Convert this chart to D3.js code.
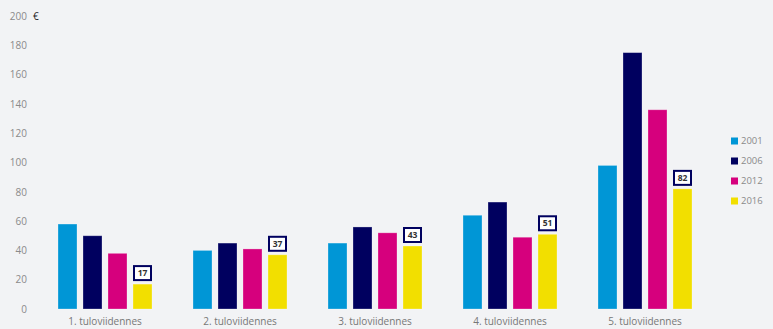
<!DOCTYPE html>
<html>
<head>
<meta charset="utf-8">
<script src="https://cdn.jsdelivr.net/npm/d3@7"></script>
<style>
  body { margin: 0; background: #f2f3f5; }
  svg { display: block; font-family: "Open Sans", sans-serif; }
</style>
</head>
<body>
<div id="graf"></div>
<script>
// datos
const categorias = ["1. tuloviidennes", "2. tuloviidennes", "3. tuloviidennes", "4. tuloviidennes", "5. tuloviidennes"];
const series = ["2001", "2006", "2012", "2016"];
const v2001 = [58, 40, 45, 64, 98];
const v2006 = [50, 45, 56, 73, 175];
const v2012 = [38, 41, 52, 49, 136];
const v2016 = [17, 37, 43, 51, 82];
const yTicks = [0, 20, 40, 60, 80, 100, 120, 140, 160, 180, 200];
const colores = ["#0096d6", "#00005f", "#d6007d", "#f2df00"];

const valores = [v2001, v2006, v2012, v2016];
const datos = categorias.map((c, i) => ({
  cat: c,
  vals: series.map((s, j) => ({ serie: s, valor: valores[j][i] }))
}));

const W = 773, H = 329;
const svg = d3.select("#graf").append("svg").attr("width", W).attr("height", H);
svg.append("rect").attr("width", W).attr("height", H).attr("fill", "#f2f3f5");

const y = d3.scaleLinear().domain([0, 200]).range([309, 16]);
const x0 = d3.scaleBand().domain(categorias).range([37.5, 712.5]).padding(0);
const x1 = d3.scaleBand().domain(series).range([0, x0.bandwidth()]).paddingInner(0.24).paddingOuter(0.82);
const color = d3.scaleOrdinal().domain(series).range(colores);

// eje y
const ejeY = svg.append("g").attr("transform", "translate(27,0)")
  .call(d3.axisLeft(y).tickValues(yTicks).tickSize(0).tickPadding(0));
ejeY.select(".domain").remove();
ejeY.selectAll("text").attr("fill", "#8a8a8a").style("font-size", "10px").style("font-family", "Open Sans");

svg.append("text").attr("x", 33).attr("y", 19.5).attr("fill", "#222")
  .style("font-size", "10px").text("€");

// eje x
const ejeX = svg.append("g").attr("transform", "translate(0,318)")
  .call(d3.axisBottom(x0).tickSize(0).tickPadding(0));
ejeX.select(".domain").remove();
ejeX.selectAll("text").attr("fill", "#777").style("font-size", "10px").style("font-family", "Open Sans");

// barras
const grupos = svg.selectAll("g.grupo").data(datos).enter().append("g")
  .attr("class", "grupo")
  .attr("transform", (d) => `translate(${x0(d.cat)},0)`);

grupos.selectAll("rect").data((d) => d.vals).enter().append("rect")
  .attr("x", (d) => x1(d.serie))
  .attr("y", (d) => y(d.valor))
  .attr("width", x1.bandwidth())
  .attr("height", (d) => y(0) - y(d.valor))
  .attr("fill", (d) => color(d.serie))
  .attr("stroke", "rgba(255,255,255,0.35)")
  .attr("stroke-width", 0.8);

// etiquetas 2016
const etq = grupos.append("g")
  .attr("transform", (d) => `translate(${x1("2016") + x1.bandwidth() / 2},${y(d.vals[3].valor) - 11})`);
etq.append("rect").attr("x", -8.5).attr("y", -7).attr("width", 17).attr("height", 14)
  .attr("fill", "#fff").attr("stroke", "#00005f").attr("stroke-width", 2);
etq.append("text").attr("text-anchor", "middle").attr("dy", "0.35em")
  .attr("fill", "#333").style("font-size", "8.5px").style("font-weight", "bold")
  .text((d) => d.vals[3].valor);

// leyenda
const ley = svg.selectAll("g.ley").data(series).enter().append("g")
  .attr("class", "ley")
  .attr("transform", (d, i) => `translate(731,${141 + i * 20})`);
ley.append("rect").attr("x", 0).attr("y", -3.5).attr("width", 7).attr("height", 7).attr("fill", color);
ley.append("text").attr("x", 10).attr("dy", "0.35em").attr("fill", "#8a8a8a")
  .style("font-size", "9.5px").text((d) => d);
</script>
</body>
</html>
